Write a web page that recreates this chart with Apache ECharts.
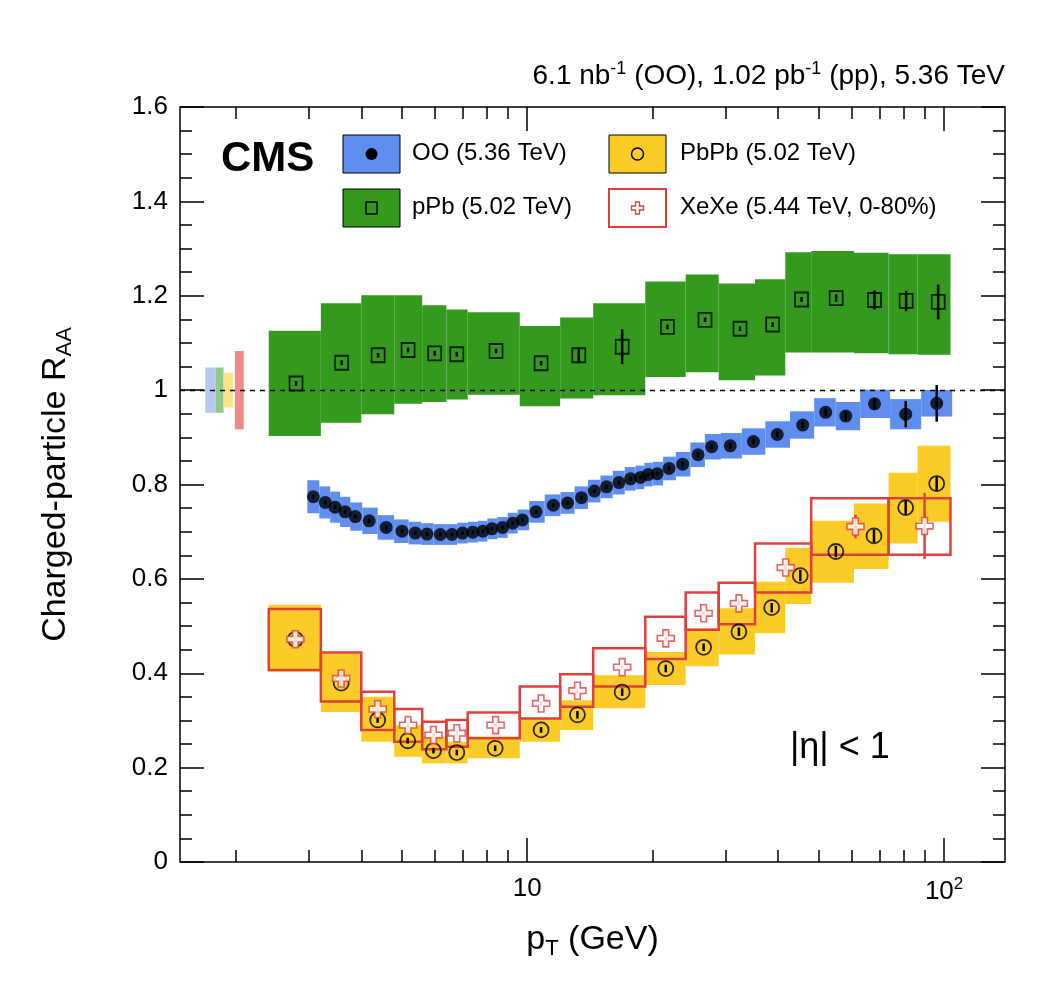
<!DOCTYPE html>
<html><head><meta charset="utf-8">
<script src="https://cdn.jsdelivr.net/npm/echarts@6/dist/echarts.min.js"></script>
<style>html,body{margin:0;padding:0;background:#fff}#c{width:1045px;height:987px}</style>
</head><body><div id="c"></div>
<script>
// ---- data ----
const binEdges = [2.4,3.2,4.0,4.8,5.6,6.4,7.2,9.6,12,14.4,19.2,24,28.8,35.2,41.6,48,60.8,73.6,86.4,103.6];
const pPbPt   = [2.79,3.59,4.39,5.18,6.0,6.78,8.42,10.8,13.3,16.9,21.7,26.7,32.4,38.8,45.5,55.1,68.1,81.1,96.8];
const pPbVal  = [1.014,1.058,1.074,1.085,1.078,1.076,1.083,1.057,1.074,1.092,1.134,1.149,1.130,1.139,1.192,1.195,1.191,1.189,1.187];
const pPbSysHi= [1.126,1.184,1.201,1.201,1.180,1.171,1.165,1.136,1.154,1.184,1.230,1.245,1.226,1.235,1.292,1.295,1.291,1.288,1.288];
const pPbSysLo= [0.903,0.931,0.949,0.971,0.975,0.980,0.990,0.966,0.982,0.989,1.028,1.038,1.021,1.031,1.080,1.080,1.078,1.076,1.075];
const pPbStat = [0.005,0.005,0.005,0.005,0.005,0.005,0.005,0.005,0.017,0.037,0.005,0.005,0.005,0.005,0.005,0.008,0.02,0.022,0.037];

const PbPbPt   = [2.78,3.58,4.38,5.17,5.96,6.78,8.38,10.8,13.2,16.9,21.5,26.5,32.2,38.6,45.2,55.0,67.9,80.9,96.0];
const PbPbVal  = [0.472,0.379,0.301,0.257,0.236,0.232,0.241,0.280,0.312,0.360,0.410,0.455,0.488,0.539,0.607,0.658,0.691,0.751,0.802];
const PbPbSysHi= [0.545,0.442,0.350,0.290,0.266,0.255,0.266,0.304,0.343,0.396,0.445,0.495,0.538,0.594,0.666,0.723,0.760,0.825,0.882];
const PbPbSysLo= [0.403,0.318,0.255,0.223,0.209,0.209,0.220,0.255,0.280,0.326,0.375,0.415,0.440,0.485,0.547,0.592,0.621,0.675,0.721];
const PbPbStat = [0.006,0.006,0.006,0.006,0.006,0.006,0.006,0.006,0.008,0.008,0.008,0.008,0.009,0.01,0.012,0.012,0.014,0.015,0.016];

const XeEdges = [2.4,3.2,4.0,4.8,5.6,6.4,7.2,9.6,12,14.4,19.2,24,28.8,35.2,48,73.6,103.6];
const XePt    = [2.78,3.58,4.38,5.18,5.96,6.78,8.4,10.8,13.2,16.9,21.5,26.5,32.2,41.7,61.3,89.8];
const XeVal   = [0.472,0.389,0.324,0.290,0.269,0.273,0.290,0.336,0.363,0.413,0.474,0.527,0.548,0.624,0.711,0.712];
const XeSysHi = [0.536,0.444,0.361,0.324,0.297,0.301,0.317,0.372,0.398,0.453,0.520,0.571,0.592,0.675,0.771,0.771];
const XeSysLo = [0.407,0.340,0.280,0.255,0.239,0.244,0.262,0.304,0.329,0.372,0.430,0.492,0.504,0.571,0.651,0.651];
const XeStat  = [0.005,0.015,0.01,0.005,0.005,0.005,0.005,0.005,0.005,0.005,0.005,0.005,0.005,0.01,0.025,0.07];

const OOPt  = [3.07,3.28,3.46,3.66,3.87,4.18,4.59,5.01,5.39,5.75,6.19,6.60,7.0,7.41,7.83,8.23,8.73,9.24,9.74,10.5,11.56,12.5,13.5,14.5,15.5,16.6,17.7,18.7,19.5,20.5,21.9,23.6,25.7,27.7,30.7,34.9,39.8,45.8,52.0,58.1,68.1,80.9,96.0];
const OOVal = [0.774,0.762,0.752,0.742,0.732,0.723,0.709,0.701,0.697,0.695,0.694,0.694,0.697,0.699,0.701,0.706,0.709,0.718,0.725,0.742,0.756,0.761,0.772,0.786,0.795,0.804,0.812,0.815,0.821,0.823,0.834,0.843,0.863,0.880,0.882,0.891,0.906,0.926,0.953,0.945,0.971,0.949,0.972];
const OOSys = [0.035,0.034,0.033,0.032,0.03,0.028,0.026,0.025,0.024,0.023,0.022,0.022,0.022,0.022,0.022,0.022,0.022,0.022,0.022,0.023,0.023,0.023,0.024,0.024,0.024,0.025,0.025,0.025,0.025,0.025,0.025,0.026,0.026,0.027,0.027,0.028,0.028,0.029,0.03,0.03,0.03,0.032,0.028];
const OOStat= [0.004,0.004,0.004,0.004,0.004,0.004,0.004,0.004,0.004,0.004,0.004,0.004,0.004,0.004,0.004,0.004,0.004,0.004,0.004,0.004,0.004,0.004,0.004,0.004,0.004,0.004,0.004,0.004,0.004,0.004,0.005,0.005,0.005,0.005,0.006,0.006,0.006,0.007,0.008,0.01,0.012,0.028,0.039];

const normLo  = [1.69,1.79,1.87,1.99];
const normHi  = [1.79,1.87,1.97,2.09];
const normUnc = [0.048,0.048,0.037,0.083];
const normCol = ['#b7c9f2','#8fc98a','#fbe38a','#f08a86'];

const xMajor = [10,100];
const xMinor = [2,3,4,5,6,7,8,9,20,30,40,50,60,70,80,90];

// ---- helpers ----
const F = '"Liberation Sans", Arial, sans-serif';
function boxData(lo, hi, ylo, yhi){ return lo.map((l,i)=>[l,hi[i],ylo[i],yhi[i]]); }
function boxSeries(data, fill, stroke, lw, z){
  return {type:'custom', z:z, clip:true, data:data, encode:{x:[0,1],y:[2,3]},
    renderItem:(p,api)=>{
      const a=api.coord([api.value(0),api.value(3)]), b=api.coord([api.value(1),api.value(2)]);
      const s={fill:fill||'none'}; if(stroke){s.stroke=stroke;s.lineWidth=lw;}
      return {type:'rect', shape:{x:a[0],y:a[1],width:b[0]-a[0],height:b[1]-a[1]}, style:s};
    }};
}
function errSeries(pt, val, err, color, z){
  return {type:'custom', z:z, clip:true, data:pt.map((x,i)=>[x,val[i]-err[i],val[i]+err[i]]), encode:{x:0,y:[1,2]},
    renderItem:(p,api)=>{
      const a=api.coord([api.value(0),api.value(1)]), b=api.coord([api.value(0),api.value(2)]);
      return {type:'line', shape:{x1:a[0],y1:a[1],x2:b[0],y2:b[1]}, style:{stroke:color,lineWidth:2.5}};
    }};
}
const edgesLo = e => e.slice(0,-1), edgesHi = e => e.slice(1);
const OOLo = OOPt.map((x,i)=> i===0 ? x*Math.sqrt(x/OOPt[1]) : Math.sqrt(x*OOPt[i-1]));
const OOHi = OOPt.map((x,i)=> i===OOPt.length-1 ? x*Math.sqrt(x/OOPt[i-1]) : Math.sqrt(x*OOPt[i+1]));
const crossPath = 'path://M-1,-3L1,-3L1,-1L3,-1L3,1L1,1L1,3L-1,3L-1,1L-3,1L-3,-1L-1,-1Z';

const xBase = {type:'log', min:1.47, max:140, splitLine:{show:false}, axisLine:{show:false}};
const chart = echarts.init(document.getElementById('c'));
chart.setOption({
  animation:false,
  grid:{left:180, right:40, top:107, bottom:125, show:true, borderColor:'#000', borderWidth:1.5, backgroundColor:'transparent'},
  xAxis:[
    Object.assign({}, xBase, {position:'bottom', name:'{a|p}{s|T}{a| (GeV)}', nameLocation:'middle', nameGap:58,
      nameTextStyle:{rich:{a:{fontSize:34,fontFamily:F,color:'#000'}, s:{fontSize:22,fontFamily:F,color:'#000',padding:[18,0,0,0]}}},
      axisTick:{show:true, inside:true, length:24, customValues:xMajor, lineStyle:{color:'#000',width:1.5}},
      axisLabel:{show:true, customValues:xMajor, margin:14, formatter:v=> v>50 ? '{b|10}{p|2}' : '{b|10}',
        rich:{b:{fontSize:26,fontFamily:F,color:'#000'}, p:{fontSize:17,fontFamily:F,color:'#000',padding:[0,0,14,0]}}}}),
    Object.assign({}, xBase, {position:'bottom', axisTick:{show:true, inside:true, length:12, customValues:xMinor, lineStyle:{color:'#000',width:1.5}}, axisLabel:{show:false}}),
    Object.assign({}, xBase, {position:'top', axisTick:{show:true, inside:true, length:24, customValues:xMajor, lineStyle:{color:'#000',width:1.5}}, axisLabel:{show:false}}),
    Object.assign({}, xBase, {position:'top', axisTick:{show:true, inside:true, length:12, customValues:xMinor, lineStyle:{color:'#000',width:1.5}}, axisLabel:{show:false}})
  ],
  yAxis:[
    {type:'value', min:0, max:1.6, interval:0.2, position:'left', splitLine:{show:false}, axisLine:{show:false},
     axisTick:{inside:true, length:24, lineStyle:{color:'#000',width:1.5}},
     minorTick:{show:true, splitNumber:4, length:12, lineStyle:{color:'#000',width:1.5}},
     axisLabel:{fontSize:26, fontFamily:F, color:'#000', margin:12, formatter:v=>String(parseFloat(v.toFixed(1)))},
     name:'{a|Charged-particle R}{s|AA}', nameLocation:'middle', nameGap:104,
     nameTextStyle:{rich:{a:{fontSize:34,fontFamily:F,color:'#000'}, s:{fontSize:22,fontFamily:F,color:'#000',padding:[18,0,0,0]}}}},
    {type:'value', min:0, max:1.6, interval:0.2, position:'right', splitLine:{show:false}, axisLine:{show:false},
     axisTick:{inside:true, length:24, lineStyle:{color:'#000',width:1.5}},
     minorTick:{show:true, splitNumber:4, length:12, lineStyle:{color:'#000',width:1.5}},
     axisLabel:{show:false}}
  ],
  series:[
    boxSeries(boxData(normLo,normHi,normUnc.map(u=>1-u),normUnc.map(u=>1+u)), null, null, 0, 1),
    boxSeries(boxData(edgesLo(binEdges),edgesHi(binEdges),pPbSysLo,pPbSysHi), '#339a1e', null, 0, 2),
    boxSeries(boxData(edgesLo(binEdges),edgesHi(binEdges),PbPbSysLo,PbPbSysHi), '#fbcb27', null, 0, 3),
    boxSeries(boxData(OOLo,OOHi,OOVal.map((v,i)=>v-OOSys[i]),OOVal.map((v,i)=>v+OOSys[i])), '#5f8ef0', null, 0, 4),
    boxSeries(boxData(edgesLo(XeEdges),edgesHi(XeEdges),XeSysLo,XeSysHi), null, '#e0403c', 2.5, 5),
    {type:'line', z:6, data:[], markLine:{silent:true, symbol:'none', label:{show:false},
      lineStyle:{color:'#000', type:[5,5], width:1.3}, data:[{yAxis:1}]}},
    errSeries(pPbPt,pPbVal,pPbStat,'#000',7),
    errSeries(PbPbPt,PbPbVal,PbPbStat,'#000',7),
    errSeries(XePt,XeVal,XeStat,'#e0403c',7),
    errSeries(OOPt,OOVal,OOStat,'#000',7),
    {type:'scatter', z:8, data:pPbPt.map((x,i)=>[x,pPbVal[i]]), symbol:'rect', symbolSize:[13,14],
      itemStyle:{color:'rgba(0,0,0,0)', borderColor:'#000', borderWidth:1.8}},
    {type:'scatter', z:8, data:PbPbPt.map((x,i)=>[x,PbPbVal[i]]), symbol:'circle', symbolSize:15,
      itemStyle:{color:'rgba(0,0,0,0)', borderColor:'#000', borderWidth:1.8}},
    {type:'scatter', z:9, data:XePt.map((x,i)=>[x,XeVal[i]]), symbol:crossPath, symbolSize:17,
      itemStyle:{color:'#fff', borderColor:'#e0403c', borderWidth:1.6}},
    {type:'scatter', z:9, data:OOPt.map((x,i)=>[x,OOVal[i]]), symbol:'circle', symbolSize:13,
      itemStyle:{color:'#000'}}
  ].map((s,i)=> i===0 ? Object.assign(s,{renderItem:(p,api)=>{
      const a=api.coord([api.value(0),api.value(3)]), b=api.coord([api.value(1),api.value(2)]);
      return {type:'rect', shape:{x:a[0],y:a[1],width:b[0]-a[0],height:b[1]-a[1]}, style:{fill:normCol[p.dataIndex]}};
    }}) : s),
  graphic:[
    {type:'text', right:40, top:60, style:{text:'6.1 nb{s|-1} (OO), 1.02 pb{s|-1} (pp), 5.36 TeV', fill:'#000', font:'28px '+F,
      rich:{s:{fontSize:18,fontFamily:F,padding:[0,0,14,0]}}}},
    {type:'text', left:221, top:138, style:{text:'CMS', fill:'#000', font:'bold 42px '+F}},
    {type:'text', left:790, top:730, style:{text:'|η| < 1', fill:'#000', font:'36px '+F}},
    // legend
    {type:'rect', shape:{x:343,y:135,width:57,height:38}, style:{fill:'#5f8ef0',stroke:'#000',lineWidth:1}},
    {type:'circle', shape:{cx:371.5,cy:154,r:6}, style:{fill:'#000'}},
    {type:'text', left:412, top:141, style:{text:'OO (5.36 TeV)', fill:'#000', font:'24px '+F}},
    {type:'rect', shape:{x:609,y:135,width:57,height:38}, style:{fill:'#fbcb27',stroke:'#000',lineWidth:1}},
    {type:'circle', shape:{cx:637.5,cy:154,r:6}, style:{fill:'none',stroke:'#000',lineWidth:1.5}},
    {type:'text', left:680, top:141, style:{text:'PbPb (5.02 TeV)', fill:'#000', font:'24px '+F}},
    {type:'rect', shape:{x:343,y:189,width:57,height:38}, style:{fill:'#339a1e',stroke:'#000',lineWidth:1}},
    {type:'rect', shape:{x:366,y:202,width:11,height:12}, style:{fill:'none',stroke:'#000',lineWidth:1.5}},
    {type:'text', left:412, top:195, style:{text:'pPb (5.02 TeV)', fill:'#000', font:'24px '+F}},
    {type:'rect', shape:{x:609,y:189,width:57,height:38}, style:{fill:'#fff',stroke:'#e0403c',lineWidth:2}},
    {type:'polygon', shape:{points:[[635.5,202],[639.5,202],[639.5,206],[643.5,206],[643.5,210],[639.5,210],[639.5,214],[635.5,214],[635.5,210],[631.5,210],[631.5,206],[635.5,206]]},
      style:{fill:'#fff',stroke:'#e0403c',lineWidth:1.4}},
    {type:'text', left:680, top:195, style:{text:'XeXe (5.44 TeV, 0-80%)', fill:'#000', font:'24px '+F}}
  ]
});
</script></body></html>
